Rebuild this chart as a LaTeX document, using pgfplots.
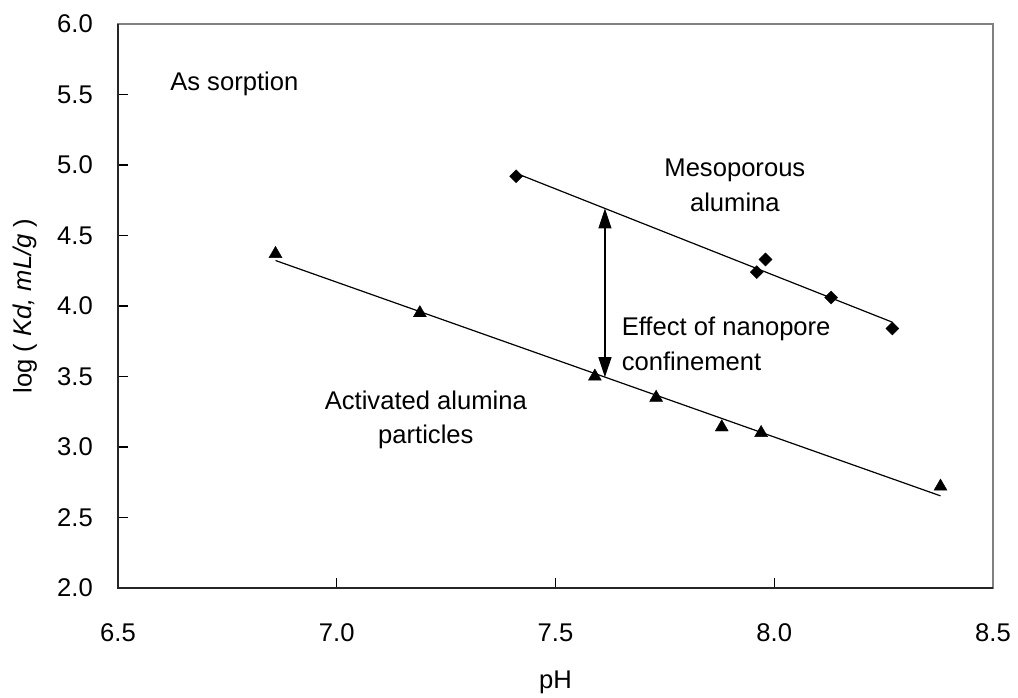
\documentclass[border=0pt]{standalone}
\usepackage{pgfplots}
\pgfplotsset{compat=1.18}
\usepackage{pgfplotstable}
\usetikzlibrary{arrows.meta}
\usepackage{fontspec}
\setmainfont{Liberation Sans}

% Sorption data: pH versus log distribution coefficient
\pgfplotstableread{
ph   logkd
7.41 4.92
7.96 4.24
7.98 4.33
8.13 4.06
8.27 3.84
}\mesoporous

\pgfplotstableread{
ph   logkd
6.86 4.37
7.19 3.95
7.59 3.50
7.73 3.35
7.88 3.14
7.97 3.10
8.38 2.72
}\activated

\begin{document}
\begin{tikzpicture}[font=\fontsize{25.6}{30}\selectfont]
\begin{axis}[
  name=ax,
  scale only axis,
  width=875pt, height=564pt,
  xmin=6.5, xmax=8.5, ymin=2, ymax=6,
  xtick={6.5,7.0,...,8.5},
  ytick={2.0,2.5,...,6.0},
  minor tick num=0,
  tick pos=left,
  tick align=inside,
  major tick length=10pt,
  tick style={black, line width=1.2pt},
  axis line style={draw=black!50, line width=2pt},
  /pgf/number format/assume math mode=true,
  xticklabel={\pgfmathprintnumber[fixed, fixed zerofill, precision=1]{\tick}},
  yticklabel={\pgfmathprintnumber[fixed, fixed zerofill, precision=1]{\tick}},
  xticklabel style={anchor=base, inner sep=0pt, yshift=-53.7pt},
  yticklabel style={anchor=east, inner sep=0pt, xshift=-25pt},
  xlabel={pH},
  ylabel={log ( \textit{Kd, mL/g} )},
  every axis x label/.style={at={(axis description cs:0.5,-0.179)}, anchor=base, inner sep=0pt},
  every axis y label/.style={at={(axis description cs:-0.1063,0.5)}, rotate=90, anchor=center, inner sep=0pt},
  clip=false,
]
  % darker left and bottom axis lines over the plot-area border
  \draw[black!85, line width=1.5pt] (rel axis cs:0,1) -- (rel axis cs:0,0) -- (rel axis cs:1,0);

  % fitted lines
  \addplot[black, line width=1.2pt, no marks]
    table[x=ph, y={create col/linear regression={y=logkd}}]{\mesoporous};
  \addplot[black, line width=1.2pt, no marks]
    table[x=ph, y={create col/linear regression={y=logkd}}]{\activated};

  % measured points
  \addplot[only marks, mark=square*, mark size=4.6pt,
    mark options={rotate=45, fill=black, draw=black}]
    table[x=ph, y=logkd]{\mesoporous};
  \addplot[only marks, mark=triangle*, mark size=7.5pt,
    mark options={fill=black, draw=black}]
    table[x=ph, y=logkd]{\activated};

  % gap between the two fits
  \draw[black, line width=1.2pt,
    {Triangle[length=20pt,width=13pt]}-{Triangle[length=20pt,width=13pt]}]
    (axis cs:7.613,3.495) -- (axis cs:7.613,4.692);

  % annotations
  \node[anchor=base west, inner sep=0pt] at (axis cs:6.619,5.525) {As sorption};
  \node[anchor=base, inner sep=0pt] at (axis cs:7.910,4.917) {Mesoporous};
  \node[anchor=base, inner sep=0pt] at (axis cs:7.910,4.669) {alumina};
  \node[anchor=base west, inner sep=0pt] at (axis cs:7.651,3.794) {Effect of nanopore};
  \node[anchor=base west, inner sep=0pt] at (axis cs:7.651,3.546) {confinement};
  \node[anchor=base, inner sep=0pt] at (axis cs:7.2036,3.267) {Activated alumina};
  \node[anchor=base, inner sep=0pt] at (axis cs:7.2036,3.026) {particles};
\end{axis}
\pgfresetboundingbox
\path ([shift={(-118pt,-110pt)}]ax.south west) rectangle ([shift={(25pt,24pt)}]ax.north east);
\end{tikzpicture}
\end{document}
